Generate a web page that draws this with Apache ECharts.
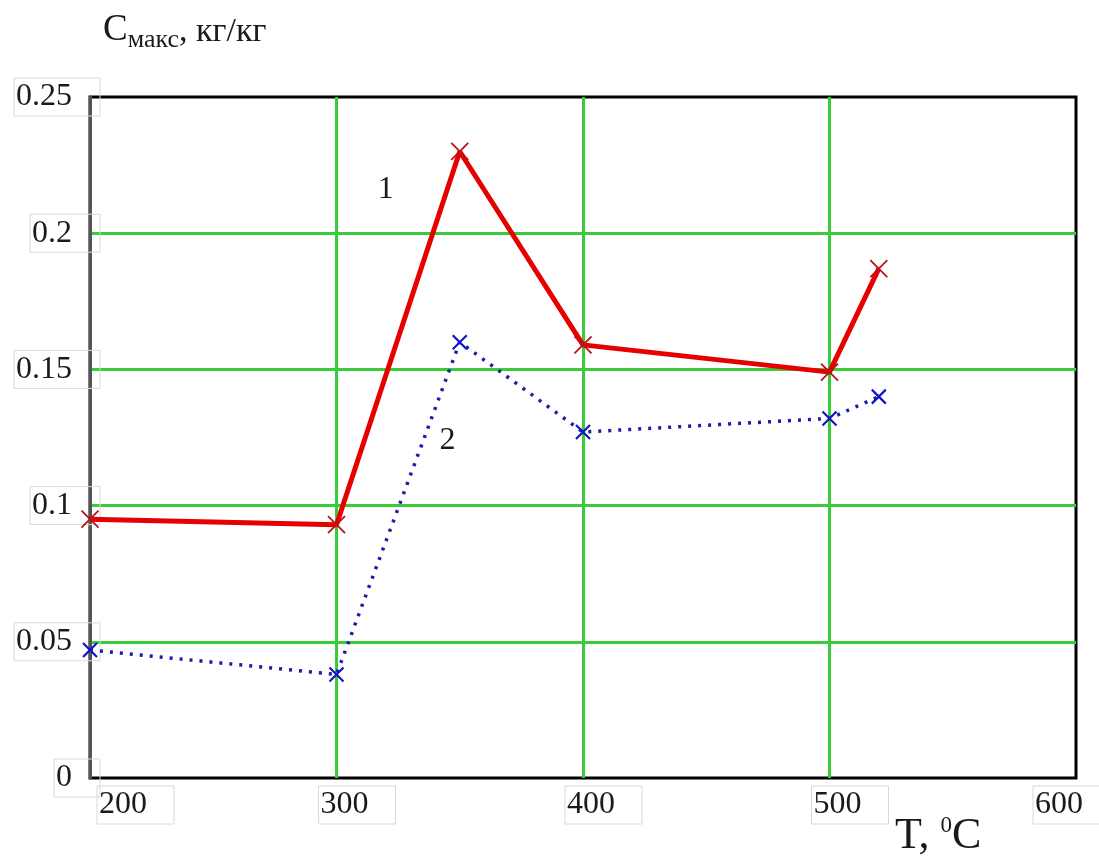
<!DOCTYPE html>
<html>
<head>
<meta charset="utf-8">
<script src="https://cdn.jsdelivr.net/npm/echarts@6/dist/echarts.min.js"></script>
<style>
html,body{margin:0;padding:0;background:#fff;}
#chart{width:1099px;height:857px;}
</style>
</head>
<body>
<div id="chart"></div>
<script>
// ---- data ----
const temperatures = [200, 300, 350, 400, 500, 520];
const series1 = [0.095, 0.093, 0.230, 0.159, 0.149, 0.187];
const series2 = [0.047, 0.038, 0.160, 0.127, 0.132, 0.140];
const xTicks = [200, 300, 400, 500, 600];
const yTicks = ['0', '0.05', '0.1', '0.15', '0.2', '0.25'];
const curveNames = ['1', '2'];
const curveLabelAt = [[320, 0.216], [345, 0.124]];

const FONT = 'Liberation Serif';
const TXT = '#1a1a1a';
const GREEN = '#39cc39';
const xSymbol = 'path://M0,0L10,10M10,0L0,10';

function pairs(ys) { return temperatures.map((t, i) => [t, ys[i]]); }

const chart = echarts.init(document.getElementById('chart'), null, {renderer: 'canvas'});

const labelBox = {
  fontFamily: FONT, fontSize: 32, color: TXT,
  borderColor: '#d9d9d9', borderWidth: 1
};

chart.setOption({
  backgroundColor: '#fff',
  animation: false,
  grid: {
    left: 90, right: 23, top: 97, bottom: 79,
    outerBoundsMode: 'none', containLabel: false,
    show: true, borderColor: '#000', borderWidth: 3, backgroundColor: 'transparent'
  },
  xAxis: {
    type: 'value', min: 200, max: 600, interval: 100,
    axisLine: {show: false},
    axisTick: {show: false},
    splitLine: {show: true, showMinLine: false, showMaxLine: false, lineStyle: {color: GREEN, width: 3}},
    axisLabel: {
      margin: 8,
      formatter: function (v) {
        if (v === xTicks[0]) return '{sp0| }{v|' + v + '}';
        if (v === xTicks[xTicks.length - 1]) return '{v|' + v + '}{sp2| }';
        return '{sp| }{v|' + v + '}';
      },
      rich: {
        v: Object.assign({padding: [3, 27, 3, 2]}, labelBox),
        sp: {width: 41, fontSize: 32},
        sp0: {width: 91, fontSize: 32},
        sp2: {width: 9, fontSize: 32}
      }
    },
    name: '{a|T, }{s|0}{a|C}',
    nameLocation: 'end',
    nameGap: -98,
    nameTextStyle: {
      align: 'right', verticalAlign: 'top', padding: [36, 0, 0, 0],
      rich: {
        a: {fontFamily: FONT, fontSize: 44, color: TXT, verticalAlign: 'bottom'},
        s: {fontFamily: FONT, fontSize: 23, color: TXT, verticalAlign: 'top'}
      }
    }
  },
  yAxis: {
    type: 'value', min: 0, max: 0.25, interval: 0.05,
    axisLine: {show: true, lineStyle: {color: '#555', width: 3}},
    axisTick: {show: false},
    splitLine: {show: true, showMinLine: false, showMaxLine: false, lineStyle: {color: GREEN, width: 3}},
    axisLabel: Object.assign({
      margin: -10,
      padding: [3, 28, 3, 2],
      formatter: function (v) { return yTicks[Math.round(v / 0.05)]; }
    }, labelBox),
    name: '{c|C}{s|макс}{t|, кг/кг}',
    nameLocation: 'end',
    nameGap: 48,
    nameTextStyle: {
      align: 'left', verticalAlign: 'bottom', padding: [0, 0, 0, 13],
      rich: {
        c: {fontFamily: FONT, fontSize: 37, color: TXT, verticalAlign: 'bottom'},
        s: {fontFamily: FONT, fontSize: 26, color: TXT, verticalAlign: 'bottom', padding: [0, 0, -4, 0]},
        t: {fontFamily: FONT, fontSize: 34, color: TXT, verticalAlign: 'bottom'}
      }
    }
  },
  series: [
    {
      type: 'line', name: '2', data: pairs(series2), z: 3,
      symbol: xSymbol, symbolSize: 14, showSymbol: true,
      lineStyle: {color: '#1c1ca6', width: 3.5, type: [3, 7], cap: 'butt'},
      itemStyle: {color: 'rgba(0,0,0,0)', borderColor: '#1414c8', borderWidth: 2.2},
      markPoint: {
        symbol: 'circle', symbolSize: 1, itemStyle: {color: 'rgba(0,0,0,0)'},
        label: {show: true, position: 'inside', formatter: curveNames[1], fontFamily: FONT, fontSize: 32, color: TXT},
        data: [{coord: curveLabelAt[1]}]
      }
    },
    {
      type: 'line', name: '1', data: pairs(series1), z: 4,
      symbol: xSymbol, symbolSize: 17, showSymbol: true,
      lineStyle: {color: '#e60000', width: 5},
      itemStyle: {color: 'rgba(0,0,0,0)', borderColor: '#b8141e', borderWidth: 1.8},
      markPoint: {
        symbol: 'circle', symbolSize: 1, itemStyle: {color: 'rgba(0,0,0,0)'},
        label: {show: true, position: 'inside', formatter: curveNames[0], fontFamily: FONT, fontSize: 32, color: TXT},
        data: [{coord: curveLabelAt[0]}]
      }
    }
  ]
});
</script>
</body>
</html>
